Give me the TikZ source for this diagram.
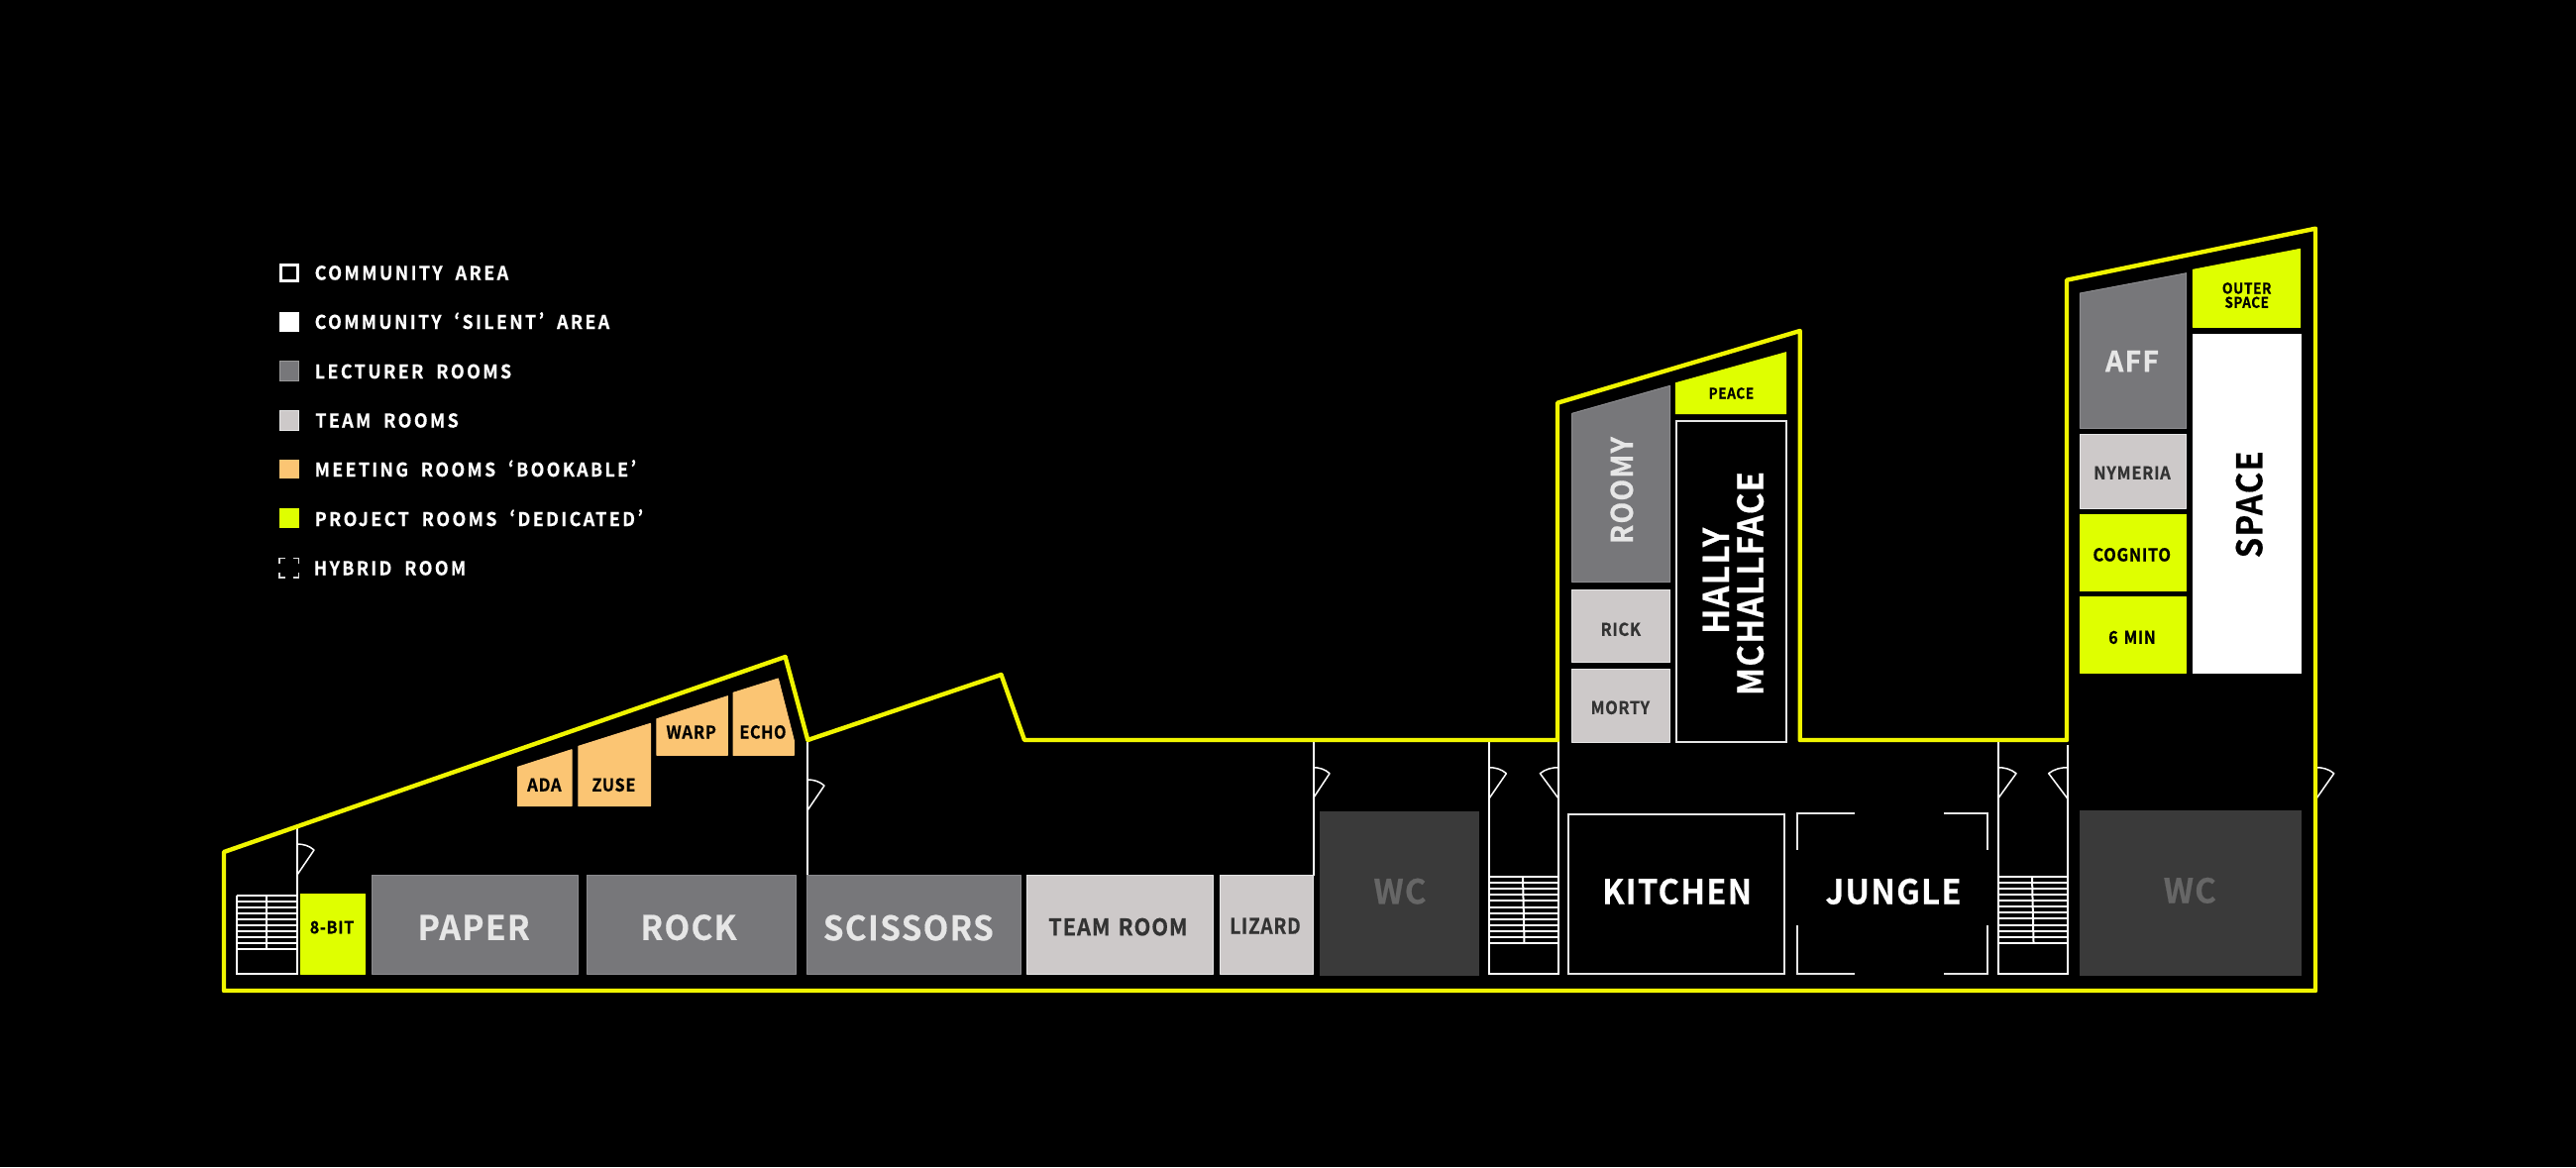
\documentclass[tikz,border=0pt]{standalone}
\usepackage{graphicx}
\usepackage{fontspec}
\setmainfont{Noto Sans CJK SC}[BoldFont={Noto Sans CJK SC Bold},BoldFeatures={FakeBold=0.5},RawFeature=+pwid,LetterSpace=4,WordSpace=1.4]
\newfontfamily\legendfont{Noto Sans CJK SC}[BoldFont={Noto Sans CJK SC Bold},BoldFeatures={FakeBold=0.3},RawFeature=+pwid,LetterSpace=13,WordSpace=2]
\newdimen\pxu \pxu=.5pt
\definecolor{outline}{HTML}{F0F500}
\definecolor{project}{HTML}{DFFF00}
\definecolor{lecturer}{HTML}{77777A}
\definecolor{teamroom}{HTML}{CDC9C9}
\definecolor{meeting}{HTML}{FBC573}
\definecolor{wcroom}{HTML}{3A3A3A}
\definecolor{ltext}{HTML}{E6E6E6}
\definecolor{ttext}{HTML}{333333}
\definecolor{wtext}{HTML}{666666}
\tikzset{
  plan/.style={x=.5pt,y=-.5pt},
  wallline/.style={draw=white,line width=1pt,line cap=butt},
  doorline/.style={draw=white,line width=.75pt,line join=round},
  rung/.style={draw=white,line width=1pt},
  roomline/.style={draw=white!90!black,line width=1.1pt},
  outer/.style={draw=outline,line width=2.2pt,line join=round},
  lecturerroom/.style={fill=lecturer,draw=lecturer!85!white,line width=.5pt,line join=round},
  teamsroom/.style={fill=teamroom,draw=white!90!black,line width=.5pt,line join=round},
  meetingroom/.style={fill=meeting,draw=meeting,line width=.5pt,line join=round},
  projectroom/.style={fill=project,draw=project,line width=.5pt,line join=round},
  silentroom/.style={fill=white,draw=white,line width=.5pt},
  wcstyle/.style={fill=wcroom,draw=wcroom,line width=.5pt},
  lbl/.style={inner sep=0pt,outer sep=0pt,font=\bfseries}
}
% name, x, y, width, cap height, colour, text
\newcommand\roomlabel[7]{\node[lbl,text=#6] (#1) at (#2,#3)
  {\resizebox{#4\pxu}{#5\pxu}{\raisebox{0pt}[.733em][0pt]{#7}}};}
\newcommand\roomlabelup[7]{\node[lbl,text=#6,rotate=90] (#1) at (#2,#3)
  {\resizebox{#4\pxu}{#5\pxu}{\raisebox{0pt}[.733em][0pt]{#7}}};}
\newcommand\legendlabel[5]{\node[lbl,text=white,anchor=west] (#1) at (#2,#3)
  {\resizebox{#4\pxu}{14\pxu}{\raisebox{0pt}[.733em][0pt]{\legendfont\bfseries #5}}};}
% hinge x, hinge y, tip x, tip y, arc end y
\newcommand\doorleaf[5]{\draw[doorline] (#1,#2) -- (#3,#4) .. controls ({#1+.7*(#3-#1)},{#5+.25*(#4-#5)}) and ({#1+.35*(#3-#1)},{#5}) .. (#1,#5);}
% x left, x right, first rung, last rung, count, mid x top, mid x bottom
\newcommand\stairs[7]{\foreach \i in {1,...,#5}{\draw[rung] (#1,{#3+(\i-1)*(#4-#3)/(#5-1)}) -- (#2,{#3+(\i-1)*(#4-#3)/(#5-1)});}
  \draw[rung] (#6,#3) -- (#7,#4);}
\begin{document}
\begin{tikzpicture}[plan]
\useasboundingbox (0,0) rectangle (2600,1178);
\fill[black] (0,0) rectangle (2600,1178);

% legend
\draw[white,line width=1.5pt] (283.5,267) rectangle (300,283.5);
\fill[white] (282,315) rectangle (301.7,334.7);
\fill[lecturer,draw=white!60!black,line width=.3pt] (282,364.7) rectangle (301.7,384.3);
\fill[teamroom,draw=white!90!black,line width=.3pt] (282,414.3) rectangle (301.7,434);
\fill[meeting] (282,464) rectangle (301.7,483.3);
\fill[project] (282,513.3) rectangle (301.7,533.3);
\draw[white!85!black,line width=.75pt]
  (282,569) -- (282,563.7) -- (288,563.7)
  (296,563.7) -- (301.5,563.7) -- (301.5,569)
  (282,577.5) -- (282,583) -- (288,583)
  (296,583) -- (301.5,583) -- (301.5,577.5);
\legendlabel{l1}{317.7}{275.5}{195.5}{COMMUNITY AREA}
\legendlabel{l2}{317.7}{325}{297.5}{COMMUNITY ‘SILENT’ AREA}
\legendlabel{l3}{317.7}{375}{198.5}{LECTURER ROOMS}
\legendlabel{l4}{318.3}{424.5}{144.5}{TEAM ROOMS}
\legendlabel{l5}{317.7}{474}{324.5}{MEETING ROOMS ‘BOOKABLE’}
\legendlabel{l6}{317.7}{524}{331.5}{PROJECT ROOMS ‘DEDICATED’}
\legendlabel{l7}{316.7}{573.5}{153.5}{HYBRID ROOM}

% walls
\draw[wallline] (300,835) -- (300,983.3) -- (238.6,983.3) -- (238.6,904);
\draw[wallline] (815,747) -- (815,884);
\draw[wallline] (1325.5,747) -- (1325.5,884);
\draw[wallline] (1503,747) -- (1503,983.3) -- (1573,983.3) -- (1573,747);
\draw[wallline] (2016.7,747) -- (2016.7,983.3) -- (2086.7,983.3) -- (2086.7,752);

% stairs
\stairs{238.6}{300}{904}{958.3}{10}{269.4}{269.4}
\stairs{1503}{1573}{885}{952.3}{12}{1537}{1538.5}
\stairs{2016.7}{2086.7}{885}{951.7}{12}{2051}{2052.5}

% doors
\doorleaf{300}{883}{317}{858}{852}
\doorleaf{815}{818}{832}{793}{787}
\doorleaf{1325.5}{805.7}{1342}{780.7}{774.7}
\doorleaf{1503}{806}{1520.4}{780.7}{774.7}
\doorleaf{1573}{806}{1554.4}{780.7}{774.7}
\doorleaf{2016.7}{806}{2035}{780.7}{774.7}
\doorleaf{2086.7}{806}{2067.7}{780.7}{774.7}
\doorleaf{2338}{806}{2355.7}{780.7}{774.7}

% ground floor rooms
\path[projectroom] (303.8,902.7) rectangle (368.7,983.3);
\path[lecturerroom] (375,883.7) rectangle (583.8,983.3);
\path[lecturerroom] (592.5,883.7) rectangle (803,983.3);
\path[lecturerroom] (814,883.7) rectangle (1030,983.3);
\path[teamsroom] (1036.6,883.7) rectangle (1224.8,983.3);
\path[teamsroom] (1231,883.7) rectangle (1325.7,983.3);
\path[wcstyle] (1332,819.3) rectangle (1492.8,984);
\path[wcstyle] (2099.3,818.7) rectangle (2322,984);
\draw[roomline] (1582.8,822) rectangle (1801,982.7);
\draw[roomline,line cap=butt]
  (1871.6,820.7) -- (1813.8,820.7) -- (1813.8,857.7)
  (1962,820.7) -- (2005.7,820.7) -- (2005.7,857.7)
  (1813.8,934.3) -- (1813.8,982.7) -- (1871.6,982.7)
  (2005.7,934.3) -- (2005.7,982.7) -- (1962,982.7);

% meeting rooms
\path[meetingroom] (522.5,774.3) -- (577,756.7) -- (577,813.7) -- (522.5,813.7) -- cycle;
\path[meetingroom] (583.8,753.3) -- (656.5,730.3) -- (656.5,813.7) -- (583.8,813.7) -- cycle;
\path[meetingroom] (662.9,725.7) -- (734.4,702.7) -- (734.4,762.3) -- (662.9,762.3) -- cycle;
\path[meetingroom] (740,699.3) -- (785.4,685) -- (801.3,747.3) -- (801.3,762.3) -- (740,762.3) -- cycle;

% first tower
\path[lecturerroom] (1586.7,417.3) -- (1685.7,389.3) -- (1685.7,587.7) -- (1586.7,587.7) -- cycle;
\path[teamsroom] (1586.7,595) rectangle (1685.7,668.7);
\path[teamsroom] (1586.7,675.7) rectangle (1685.7,749);
\path[projectroom] (1691.3,386.7) -- (1802.7,355.7) -- (1802.7,417.7) -- (1691.3,417.7) -- cycle;
\draw[roomline] (1692.3,425) rectangle (1802.7,749);

% second tower
\path[lecturerroom] (2099.3,296) -- (2206.7,275.7) -- (2206.7,432.3) -- (2099.3,432.3) -- cycle;
\path[teamsroom] (2099.3,438) rectangle (2206.7,513);
\path[projectroom] (2099.3,519.3) rectangle (2206.7,596.7);
\path[projectroom] (2099.3,602.7) rectangle (2206.7,679.3);
\path[projectroom] (2213.3,272.3) -- (2321.7,251.3) -- (2321.7,330.3) -- (2213.3,330.3) -- cycle;
\path[silentroom] (2213.3,337.3) rectangle (2322.3,679.3);

% building outline
\draw[outer] (226,1000) -- (226,860) -- (792.6,663) -- (815.3,747) -- (1010.5,681)
  -- (1034,747) -- (1572,747) -- (1572,406.7) -- (1816.7,334) -- (1816.7,747)
  -- (2086,747) -- (2086,282.7) -- (2337,230.7) -- (2337,1000) -- cycle;

% labels
\roomlabel{r8bit}{335}{936}{44.5}{12.5}{black}{8-BIT}
\roomlabel{rpaper}{478.2}{936.3}{113}{25}{ltext}{PAPER}
\roomlabel{rrock}{695}{936.3}{97}{25}{ltext}{ROCK}
\roomlabel{rscissors}{916.8}{936.7}{172}{25}{ltext}{SCISSORS}
\roomlabel{rteam}{1128.4}{935.7}{140.5}{17}{ttext}{TEAM ROOM}
\roomlabel{rlizard}{1277}{934.7}{71.5}{16}{ttext}{LIZARD}
\roomlabel{rwca}{1413}{899.8}{53}{25}{wtext}{WC}
\roomlabel{rwcb}{2210.3}{899}{53}{25}{wtext}{WC}
\roomlabel{rkitchen}{1692.6}{900}{151}{25}{white}{KITCHEN}
\roomlabel{rjungle}{1911}{900}{137}{25}{white}{JUNGLE}
\roomlabel{rada}{549.4}{792.3}{34.5}{13}{black}{ADA}
\roomlabel{rzuse}{619.4}{792.3}{44}{13}{black}{ZUSE}
\roomlabel{rwarp}{697.7}{739}{50.5}{13}{black}{WARP}
\roomlabel{recho}{770}{739}{47}{13}{black}{ECHO}
\roomlabelup{rroomy}{1637}{495}{108}{22}{ltext}{ROOMY}
\roomlabelup{rhally}{1732}{586.3}{107}{26}{white}{HALLY}
\roomlabelup{rmch}{1766.7}{589}{226}{26}{white}{MCHALLFACE}
\roomlabel{rrick}{1635.8}{635.3}{40.5}{13}{ttext}{RICK}
\roomlabel{rmorty}{1635.3}{714.3}{59.5}{13}{ttext}{MORTY}
\roomlabel{rpeace}{1747.4}{397}{45.5}{11}{black}{PEACE}
\roomlabel{raff}{2152}{364.7}{54}{21}{ltext}{AFF}
\roomlabel{rnym}{2152}{477.3}{77.5}{13}{ttext}{NYMERIA}
\roomlabel{rcog}{2151.7}{560}{78.5}{13}{black}{COGNITO}
\roomlabel{rsix}{2152}{643.3}{47.5}{13}{black}{6 MIN}
\roomlabel{router}{2267.7}{291}{49.5}{11}{black}{OUTER}
\roomlabel{rsp}{2267.7}{305.3}{44.5}{11}{black}{SPACE}
\roomlabelup{rspace}{2270.3}{509.3}{108}{26}{black}{SPACE}
\end{tikzpicture}
\end{document}
